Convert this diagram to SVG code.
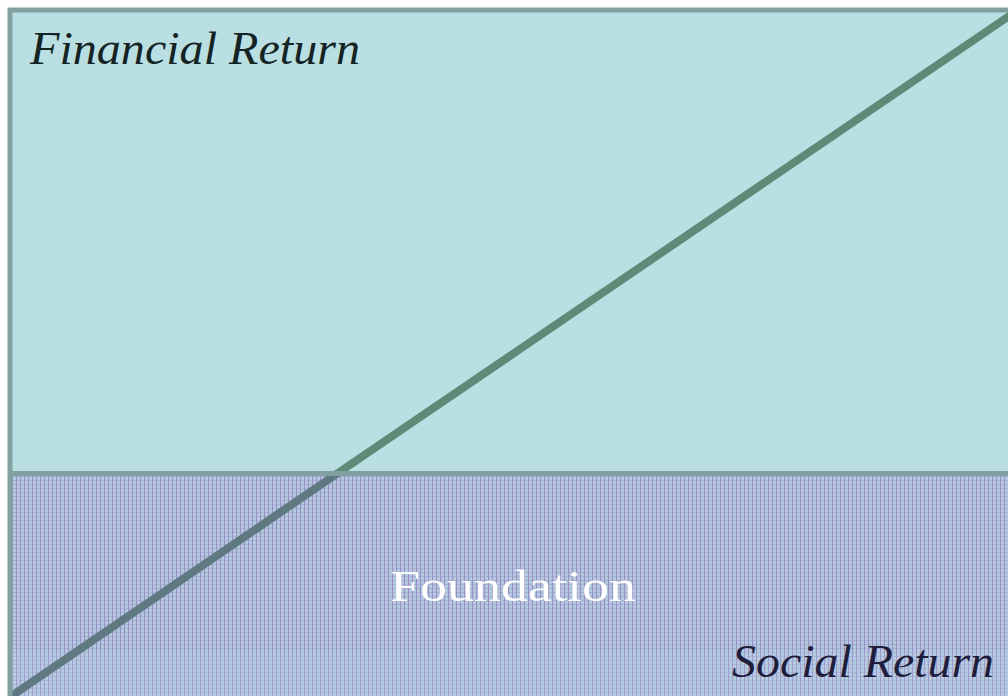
<svg xmlns="http://www.w3.org/2000/svg" width="1008" height="696" viewBox="0 0 1008 696">
  <defs>
    <pattern id="grid" width="4" height="4" patternUnits="userSpaceOnUse">
      <rect width="4" height="4" fill="#b0c6dc"/>
      <rect x="0" y="0" width="1" height="4" fill="#9a90c6"/>
      <rect x="1" y="0" width="3" height="1" fill="#a8b2d6"/>
      <rect x="2" y="2" width="1" height="1" fill="#c2d6e6"/>
    </pattern>
  </defs>
  <style>
    .ital { font-family: "Liberation Serif", "DejaVu Serif", serif; font-style: italic; font-size: 46px; }
    .border { fill: none; stroke: #82a09f; stroke-width: 5; }
  </style>
  <rect width="1008" height="696" fill="#ffffff"/>
  <g id="financial">
    <rect x="10" y="10" width="1010" height="464" fill="#b9dfe2"/>
    <text class="ital" x="30" y="64" fill="#142424" textLength="330" lengthAdjust="spacingAndGlyphs">Financial Return</text>
  </g>
  <g id="foundation">
    <rect x="10" y="474" width="1010" height="230" fill="url(#grid)"/>
    <rect x="10" y="651" width="1010" height="50" fill="#c0d8ea" opacity="0.2"/>
    <text x="513" y="601" text-anchor="middle" fill="#ffffff" font-family="Liberation Serif, DejaVu Serif, serif" font-size="44" textLength="246" lengthAdjust="spacingAndGlyphs">Foundation</text>
  </g>
  <g id="connectors">
    <line x1="338" y1="473" x2="1012" y2="14" stroke="#5f8a78" stroke-width="8"/>
    <line x1="10" y1="697" x2="338" y2="473" stroke="#5e7a80" stroke-width="8"/>
  </g>
  <g id="frame">
    <rect class="border" x="10" y="10" width="1010" height="690"/>
    <line x1="10" y1="473.5" x2="1008" y2="473.5" stroke="#82a09f" stroke-width="5"/>
  </g>
  <g id="social">
    <text class="ital" x="732" y="677" fill="#1e1e3c" textLength="262" lengthAdjust="spacingAndGlyphs">Social Return</text>
  </g>
</svg>
